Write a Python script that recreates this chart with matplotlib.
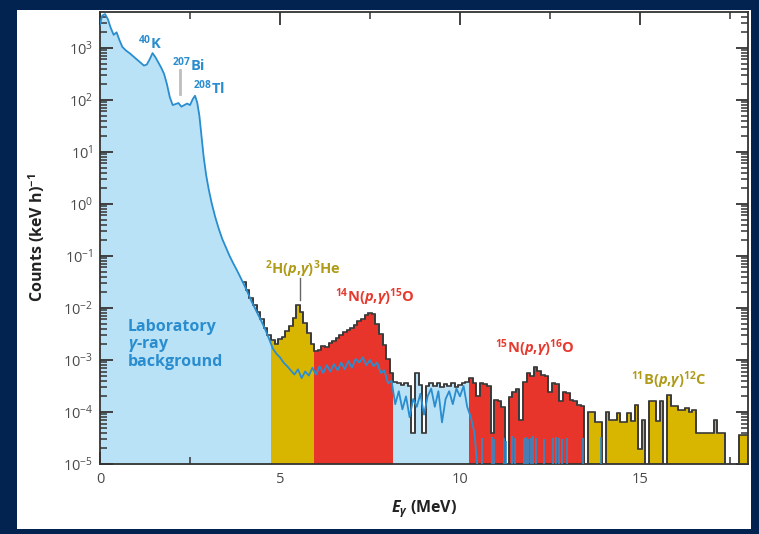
import numpy as np
import matplotlib
matplotlib.use("Agg")
import matplotlib.pyplot as plt
from matplotlib.patches import Rectangle
from matplotlib.ticker import LogLocator, MultipleLocator, NullFormatter

FONT = "Open Sans"
plt.rcParams["font.family"] = [FONT, "DejaVu Sans"]
plt.rcParams["mathtext.fontset"] = "custom"
plt.rcParams["mathtext.rm"] = f"{FONT}:bold"
plt.rcParams["mathtext.it"] = f"{FONT}:italic:bold"
plt.rcParams["mathtext.bf"] = f"{FONT}:bold"
plt.rcParams["mathtext.bfit"] = f"{FONT}:italic:bold"

# ---------------------------------------------------------------------------
# Laboratory gamma-ray background: energy (MeV) and log10 counts (keV h)^-1
bg_energy = [0.00, 0.06, 0.14, 0.22, 0.30, 0.38, 0.46, 0.54, 0.62, 0.72,
             0.82, 0.92, 1.02, 1.12, 1.22, 1.30, 1.38, 1.46, 1.54, 1.62,
             1.70, 1.78, 1.86, 1.94, 2.02, 2.10, 2.18, 2.26, 2.34, 2.42,
             2.50, 2.58, 2.64, 2.70, 2.76, 2.82, 2.88, 2.95, 3.02, 3.10,
             3.20, 3.30, 3.40, 3.50, 3.60, 3.70, 3.80, 3.90, 4.00, 4.10,
             4.20, 4.30, 4.40, 4.50, 4.60, 4.70, 4.80, 4.90,
             5.0, 5.1, 5.2, 5.3, 5.4, 5.5, 5.6, 5.7, 5.8, 5.9,
             6.0, 6.1, 6.2, 6.3, 6.4, 6.5, 6.6, 6.7, 6.8, 6.9,
             7.0, 7.1, 7.2, 7.3, 7.4, 7.5, 7.6, 7.7, 7.8, 7.9,
             8.0, 8.1, 8.2, 8.3, 8.4, 8.5, 8.6, 8.7, 8.8, 8.9,
             9.0, 9.1, 9.2, 9.3, 9.4, 9.5, 9.6, 9.7, 9.8, 9.9,
             10.0, 10.1, 10.2, 10.3, 10.4, 10.5]
bg_log10 = [3.45, 3.62, 3.65, 3.55, 3.38, 3.25, 3.30, 3.15, 3.02, 2.95,
            2.90, 2.84, 2.78, 2.72, 2.66, 2.68, 2.78, 2.90, 2.82, 2.72,
            2.62, 2.50, 2.30, 2.05, 1.90, 1.92, 1.94, 1.87, 1.90, 1.93,
            1.90, 2.02, 2.08, 1.95, 1.70, 1.30, 0.90, 0.55, 0.28, 0.02,
            -0.25, -0.48, -0.68, -0.84, -1.00, -1.14, -1.27, -1.41, -1.55, -1.70,
            -1.86, -2.00, -2.14, -2.28, -2.43, -2.60, -2.78, -2.88,
            -2.95, -3.05, -3.12, -3.20, -3.28, -3.18, -3.35, -3.22, -3.30, -3.15,
            -3.28, -3.12, -3.25, -3.10, -3.22, -3.08, -3.20, -3.05, -3.18, -3.02,
            -3.15, -2.98, -3.05, -2.95, -3.10, -3.00, -3.12, -3.05, -3.25, -3.20,
            -3.45, -3.40, -3.85, -3.60, -3.95, -3.70, -4.10, -3.75, -3.90, -3.65,
            -4.05, -3.70, -3.55, -3.90, -3.60, -4.20, -3.75, -3.60, -3.85, -3.55,
            -3.70, -3.50, -3.90, -4.10, -4.40, -5.20]

# Sparse background bins above 10.5 MeV (isolated counts)
bg_spike_energy = [10.62, 10.88, 10.95, 11.22, 11.28, 11.45, 11.52, 11.78, 11.84,
                   11.90, 11.96, 12.02, 12.10, 12.32, 12.58, 12.66, 12.74, 12.82,
                   12.98, 13.42, 13.92]
bg_spike_log10 = [-4.50, -4.48, -4.52, -4.50, -4.55, -4.46, -4.50, -4.50, -4.48,
                  -4.52, -4.50, -4.47, -4.50, -4.52, -4.50, -4.48, -4.50, -4.52,
                  -4.50, -4.50, -4.48]

# In-beam spectrum, 0.1 MeV bins centred on 4.0 ... 18.0 MeV (log10 counts)
beam_first_center = 4.0
beam_bin_width = 0.1
beam_log10 = [
    -1.50, -1.65, -1.80, -1.95, -2.08, -2.22, -2.38, -2.52, -2.62, -2.70,
    -2.60, -2.55, -2.45, -2.35, -2.20, -1.95, -2.08, -2.28, -2.48, -2.70,
    -2.82, -2.80, -2.74, -2.75, -2.68, -2.64, -2.58, -2.52, -2.47, -2.42,
    -2.38, -2.32, -2.26, -2.22, -2.14, -2.10, -2.12, -2.30, -2.50, -2.72,
    -2.98, -3.25, -3.42, -3.45, -3.48, -3.44, -3.50, -4.40, -3.25, -3.48,
    -4.40, -3.50, -3.45, -3.50, -3.44, -3.52, -3.46, -3.50, -3.44, -3.52,
    -3.48, -3.45, -3.42, -3.35, -3.44, -3.70, -3.45, -3.46, -3.50, -4.40,
    -3.76, -3.78, -3.90, -6.00, -3.72, -3.62, -3.55, -4.15, -3.42, -3.26,
    -3.30, -3.13, -3.22, -3.28, -3.30, -3.62, -3.44, -3.46, -3.78, -3.62,
    -3.64, -3.76, -3.78, -3.86, -3.88, -6.00, -4.00, -4.00, -4.20, -4.20,
    -6.00, -4.00, -4.15, -4.15, -4.02, -4.20, -4.20, -4.02, -4.18, -3.87,
    -4.72, -4.15, -6.00, -3.78, -3.78, -4.18, -3.78, -6.00, -3.67, -3.88,
    -3.88, -3.96, -3.96, -3.92, -4.00, -3.96, -4.40, -4.40, -4.40, -4.40,
    -4.40, -4.15, -4.40, -4.40, -6.00, -6.00, -6.00, -6.00, -4.45, -4.45,
    -4.45,
]

# Energy windows of the reactions (MeV) and their fill colours
region_edges = [0.0, 4.75, 5.95, 8.15, 10.25, 13.45, 18.5]
LIGHT_BLUE = "#b9e2f6"
GOLD = "#d8b600"
RED = "#e8352b"
region_colors = [LIGHT_BLUE, GOLD, RED, LIGHT_BLUE, RED, GOLD]

BLUE = "#2a8dcf"
GOLD_TEXT = "#b09b18"
RED_TEXT = "#e63a2f"
OUTLINE = "#3a3a3a"
NAVY = "#02234f"
FLOOR = 1e-6

# ---------------------------------------------------------------------------
W, H = 759, 534
fig = plt.figure(figsize=(W / 100, H / 100), dpi=100, facecolor=NAVY)
fig.patches.append(Rectangle((17 / W, 5 / H), (751 - 17) / W, (524 - 5) / H,
                             transform=fig.transFigure, facecolor="white",
                             edgecolor="none", zorder=-10))
ax = fig.add_axes([100 / W, 70 / H, 648 / W, 452 / H])
ax.set_facecolor("white")
ax.set_yscale("log")
ax.set_xlim(0, 18)
ax.set_ylim(1e-5, 10 ** 3.69)

bg_E = np.array(bg_energy)
bg_c = 10.0 ** np.array(bg_log10)

# light-blue area under the low-energy background
low = bg_E <= 4.8
ax.fill_between(bg_E[low], FLOOR, bg_c[low], color=LIGHT_BLUE, lw=0, zorder=1)

# in-beam histogram, coloured by reaction window
beam_c = 10.0 ** np.array(beam_log10)
n = len(beam_c)
centers = beam_first_center + beam_bin_width * np.arange(n)
edges = np.concatenate([centers - beam_bin_width / 2,
                        [centers[-1] + beam_bin_width / 2]])
for lo, hi, col in zip(region_edges[:-1], region_edges[1:], region_colors):
    idx = np.where((centers >= lo) & (centers < hi))[0]
    if len(idx) == 0:
        continue
    i0, i1 = idx[0], idx[-1] + 1
    ax.stairs(beam_c[i0:i1], edges[i0:i1 + 1], baseline=FLOOR, fill=True,
              color=col, lw=0, zorder=2)
ax.stairs(beam_c, edges, baseline=None, color=OUTLINE, lw=1.2, zorder=3)
ax.vlines(edges[1:-1], np.minimum(beam_c[:-1], beam_c[1:]),
          np.maximum(beam_c[:-1], beam_c[1:]), color=OUTLINE, lw=1.2, zorder=3)

# background spectrum on top
ax.plot(bg_E, bg_c, color=BLUE, lw=1.3, zorder=4, solid_joinstyle="round")
ax.vlines(bg_spike_energy, FLOOR, 10.0 ** np.array(bg_spike_log10),
          color=BLUE, lw=1.4, alpha=0.85, zorder=4)

# ---------------------------------------------------------------------------
# axes styling
for sp in ax.spines.values():
    sp.set_color("#333333")
    sp.set_linewidth(1.3)
ax.xaxis.set_major_locator(MultipleLocator(5))
ax.xaxis.set_minor_locator(MultipleLocator(2.5))
ax.yaxis.set_major_locator(LogLocator(base=10, numticks=20))
ax.yaxis.set_minor_locator(LogLocator(base=10, subs=np.arange(2, 10), numticks=20))
ax.yaxis.set_minor_formatter(NullFormatter())
ax.tick_params(which="both", direction="in", top=True, right=True,
               color="#333333", labelcolor="#4a4a4a", labelsize=10.5)
ax.tick_params(which="major", length=9, width=1.3)
ax.tick_params(which="minor", length=5, width=1.1)
ax.tick_params(axis="y", pad=5)
ax.tick_params(axis="x", pad=6)

ax.set_ylabel(r"Counts (keV h)$^{-1}$", fontsize=11.5, fontweight="bold",
              color="#222222", labelpad=11)
ax.set_xlabel(r"$E_{\gamma}$ (MeV)", fontsize=11.5, fontweight="bold",
              color="#222222", labelpad=8)

# ---------------------------------------------------------------------------
# annotations
tk = dict(fontsize=10.5, fontweight="bold", zorder=6)
ax.text(1.05, 10 ** 3.10, r"$^{40}$K", color=BLUE, ha="left", va="center", **tk)
ax.text(2.0, 10 ** 2.67, r"$^{207}$Bi", color=BLUE, ha="left", va="center", **tk)
ax.text(2.58, 10 ** 2.23, r"$^{208}$Tl", color=BLUE, ha="left", va="center", **tk)
ax.plot([2.22, 2.22], [10 ** 2.58, 10 ** 2.12], color="#bdbdbd", lw=2, zorder=5)

ax.text(0.78, 10 ** -2.71, "Laboratory\n" + r"$\gamma$-ray" + "\nbackground",
        color=BLUE, ha="left", va="center", fontsize=11.5, fontweight="bold",
        linespacing=1.05, zorder=6)

ax.text(5.64, 10 ** -1.25, r"$^{2}$H($p$,$\gamma$)$^{3}$He", color=GOLD_TEXT,
        ha="center", va="center", **tk)
ax.plot([5.56, 5.56], [10 ** -1.42, 10 ** -1.85], color="#666666", lw=1, zorder=5)
ax.text(7.64, 10 ** -1.79, r"$^{14}$N($p$,$\gamma$)$^{15}$O", color=RED_TEXT,
        ha="center", va="center", **tk)
ax.text(12.08, 10 ** -2.77, r"$^{15}$N($p$,$\gamma$)$^{16}$O", color=RED_TEXT,
        ha="center", va="center", **tk)
ax.text(15.8, 10 ** -3.38, r"$^{11}$B($p$,$\gamma$)$^{12}$C", color=GOLD_TEXT,
        ha="center", va="center", **tk)

fig.savefig("out.png", dpi=100, facecolor=NAVY)
